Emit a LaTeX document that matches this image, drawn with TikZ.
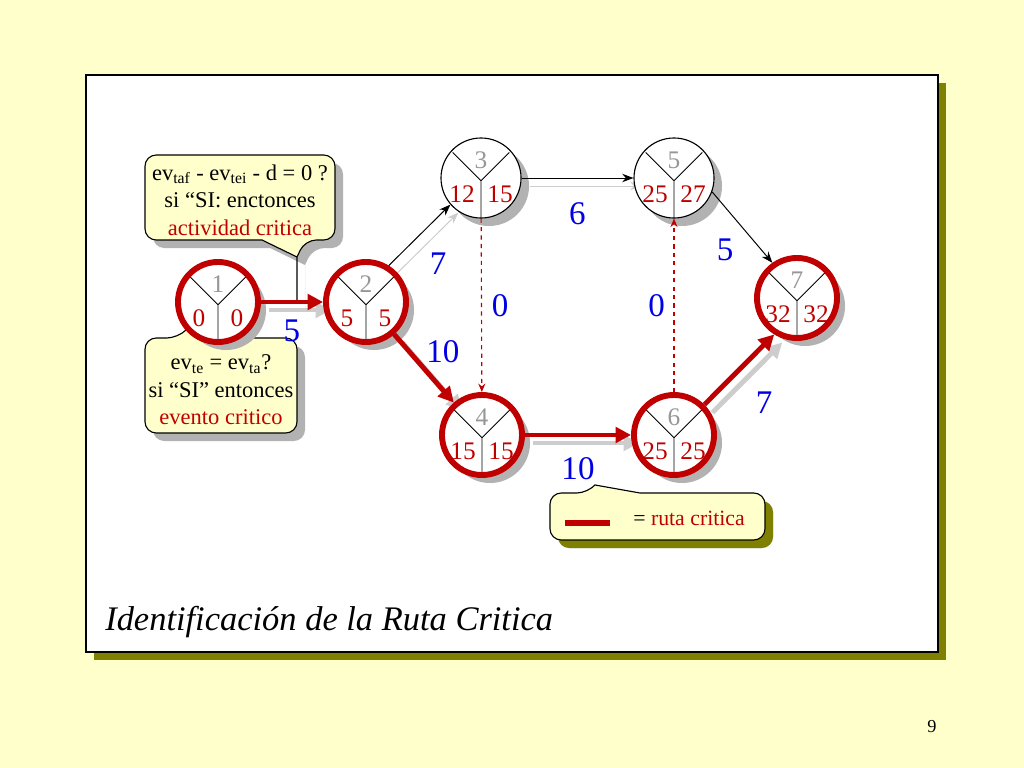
\documentclass[tikz,border=0pt]{standalone}
\usepackage{fontspec}
\setmainfont{Liberation Serif}
\usepackage{tikz}
\usetikzlibrary{positioning,arrows.meta,shadows,backgrounds}

\definecolor{fondo}{RGB}{255,255,204}
\definecolor{oliva}{RGB}{128,128,0}
\definecolor{rojo}{RGB}{192,0,0}
\definecolor{azul}{RGB}{0,0,230}
\definecolor{gris}{RGB}{178,178,178}
\definecolor{grisclaro}{RGB}{205,205,205}

\begin{document}
\begin{tikzpicture}[x=0.025cm,y=-0.025cm,
    evento/.style={circle, fill=white, minimum size=2cm, inner sep=0pt,
        drop shadow={shadow xshift=0.2cm, shadow yshift=-0.2cm, fill=gris, opacity=1},
        path picture={\draw[draw=black, line width=0.6pt]
            ([yshift=-2pt]path picture bounding box.center) -- ++(135:1cm)
            ([yshift=-2pt]path picture bounding box.center) -- ++(45:1cm)
            ([yshift=-2pt]path picture bounding box.center) -- ++(-90:1cm);}},
    critico/.style={draw=rojo, line width=4.2pt},
    nocritico/.style={draw=black, line width=0.8pt},
    numero/.style={font=\fontsize{18}{18}\selectfont, inner sep=0pt},
    costo/.style={text=azul, font=\fontsize{23.5}{23.5}\selectfont, inner sep=2pt},
    ruta/.style={draw=rojo, line width=3.5pt, -{Triangle[length=11pt,width=11pt]}},
    actividad/.style={draw=black, line width=0.7pt, -{Stealth[length=8pt,width=6pt]}},
    ficticia/.style={draw=rojo, line width=0.8pt, dashed, -{Stealth[length=6pt,width=5pt]}},
    globo/.style={fill=fondo, draw, line width=0.8pt, rounded corners=8,
        drop shadow={shadow xshift=0.2cm, shadow yshift=-0.2cm, fill=gris, opacity=1}},
    texto/.style={font=\fontsize{16}{19.5}\selectfont, align=center, inner sep=0pt}]

    \useasboundingbox (0,0) rectangle (1024,768);

    % globos
    \path[globo] (145,200) -- (145,155) -- (335,155) -- (335,240) -- (305,240)
        [sharp corners] -- (297,257) -- (297,300) -- (297,257) -- (262,240)
        [rounded corners=8] -- (145,240) -- cycle;
    \node[texto] (regla1) at (240,200) {ev\textsubscript{taf} - ev\textsubscript{tei} - d = 0 ?\\
        si “SI: enctonces\\ \textcolor{rojo}{actividad critica}};

    \path[globo] (145,385) -- (145,338) -- (178,338)
        [sharp corners] -- (193,323) -- (205,338)
        [rounded corners=8] -- (297,338) -- (297,433) -- (145,433) -- cycle;
    \node[texto] (regla2) at (221,390) {ev\textsubscript{te} = ev\textsubscript{ta}?\\
        si “SI” entonces\\ \textcolor{rojo}{evento critico}};

    \path[globo, drop shadow={shadow xshift=0.2cm, shadow yshift=-0.2cm, fill=oliva, opacity=1}]
        (550,515) -- (550,493) -- (588,493)
        [sharp corners] -- (595,485) -- (640,493)
        [rounded corners=8] -- (765,493) -- (765,540) -- (550,540) -- cycle;
    \draw[rojo, line width=4.5pt] (565,523) -- (610,523);
    \node[font=\fontsize{15.5}{15.5}\selectfont, anchor=base west, inner sep=0pt] (leyenda)
        at (633,525) {= \textcolor{rojo}{ruta critica}};

    % eventos
    \foreach \n/\x/\y/\te/\ta/\tipo in {1/218/302/0/0/critico, 2/366/302/5/5/critico,
        3/481/178/12/15/nocritico, 4/482/435/15/15/critico, 5/674/178/25/27/nocritico,
        6/674/435/25/25/critico, 7/797/298/32/32/critico}{
        \node[evento, \tipo] (e\n) at (\x,\y) {};
        \node[numero, text=gris!85!black] (s\n) at ([shift={(0,-18)}]e\n.center) {\n};
        \node[numero, text=rojo] (i\n) at ([shift={(-19,16)}]e\n.center) {\te};
        \node[numero, text=rojo] (d\n) at ([shift={(19,16)}]e\n.center) {\ta};
    }

    % actividades
    \path
    (e1) edge[ruta] node[costo, below=9pt] (c12) {5} (e2)
    (e2.58) edge[actividad] node[costo, below right=10pt and 5pt] (c23) {7} (e3.221)
    (e2) edge[ruta] node[costo, above right=0pt and -2pt] (c24) {10} (e4)
    (e3) edge[actividad] node[costo, below=15pt] (c35) {6} (e5)
    (e3) edge[ficticia] node[costo, right=5pt] (c34) {0} (e4)
    (e6) edge[ficticia] node[costo, left=4pt] (c65) {0} (e5)
    (e5.-20) edge[actividad] node[costo, below left=6pt and 4pt] (c57) {5} (e7.125)
    (e4) edge[ruta] node[costo, below=12pt] (c46) {10} (e6)
    (e6.45) edge[ruta] node[costo, below right=12pt and 8pt] (c67) {7} (e7.238);

    % marco y sombras
    \begin{scope}[on background layer]
        \fill[fondo] (0,0) rectangle (1024,768);
        \fill[oliva] (94,83) rectangle (946,660);
        \draw[fill=white, line width=0.8pt] (86,75) rectangle (938,652);
        \begin{scope}[transform canvas={xshift=0.2cm, yshift=-0.2cm}]
            \foreach \a/\b/\estilo in {e1/e2/ruta, e2.58/e3.221/actividad, e2/e4/ruta,
                e3/e5/actividad, e4/e6/ruta, e6.45/e7.238/ruta}
                \draw[\estilo, draw=grisclaro] (\a) -- (\b);
        \end{scope}
    \end{scope}

    \node[font=\itshape\fontsize{24.5}{24.5}\selectfont, anchor=base west, inner sep=0pt] (titulo)
        at (105,630) {Identificación de la Ruta Critica};
    \node[font=\fontsize{13}{13}\selectfont] (pagina) at (932,727) {9};
\end{tikzpicture}
\end{document}
